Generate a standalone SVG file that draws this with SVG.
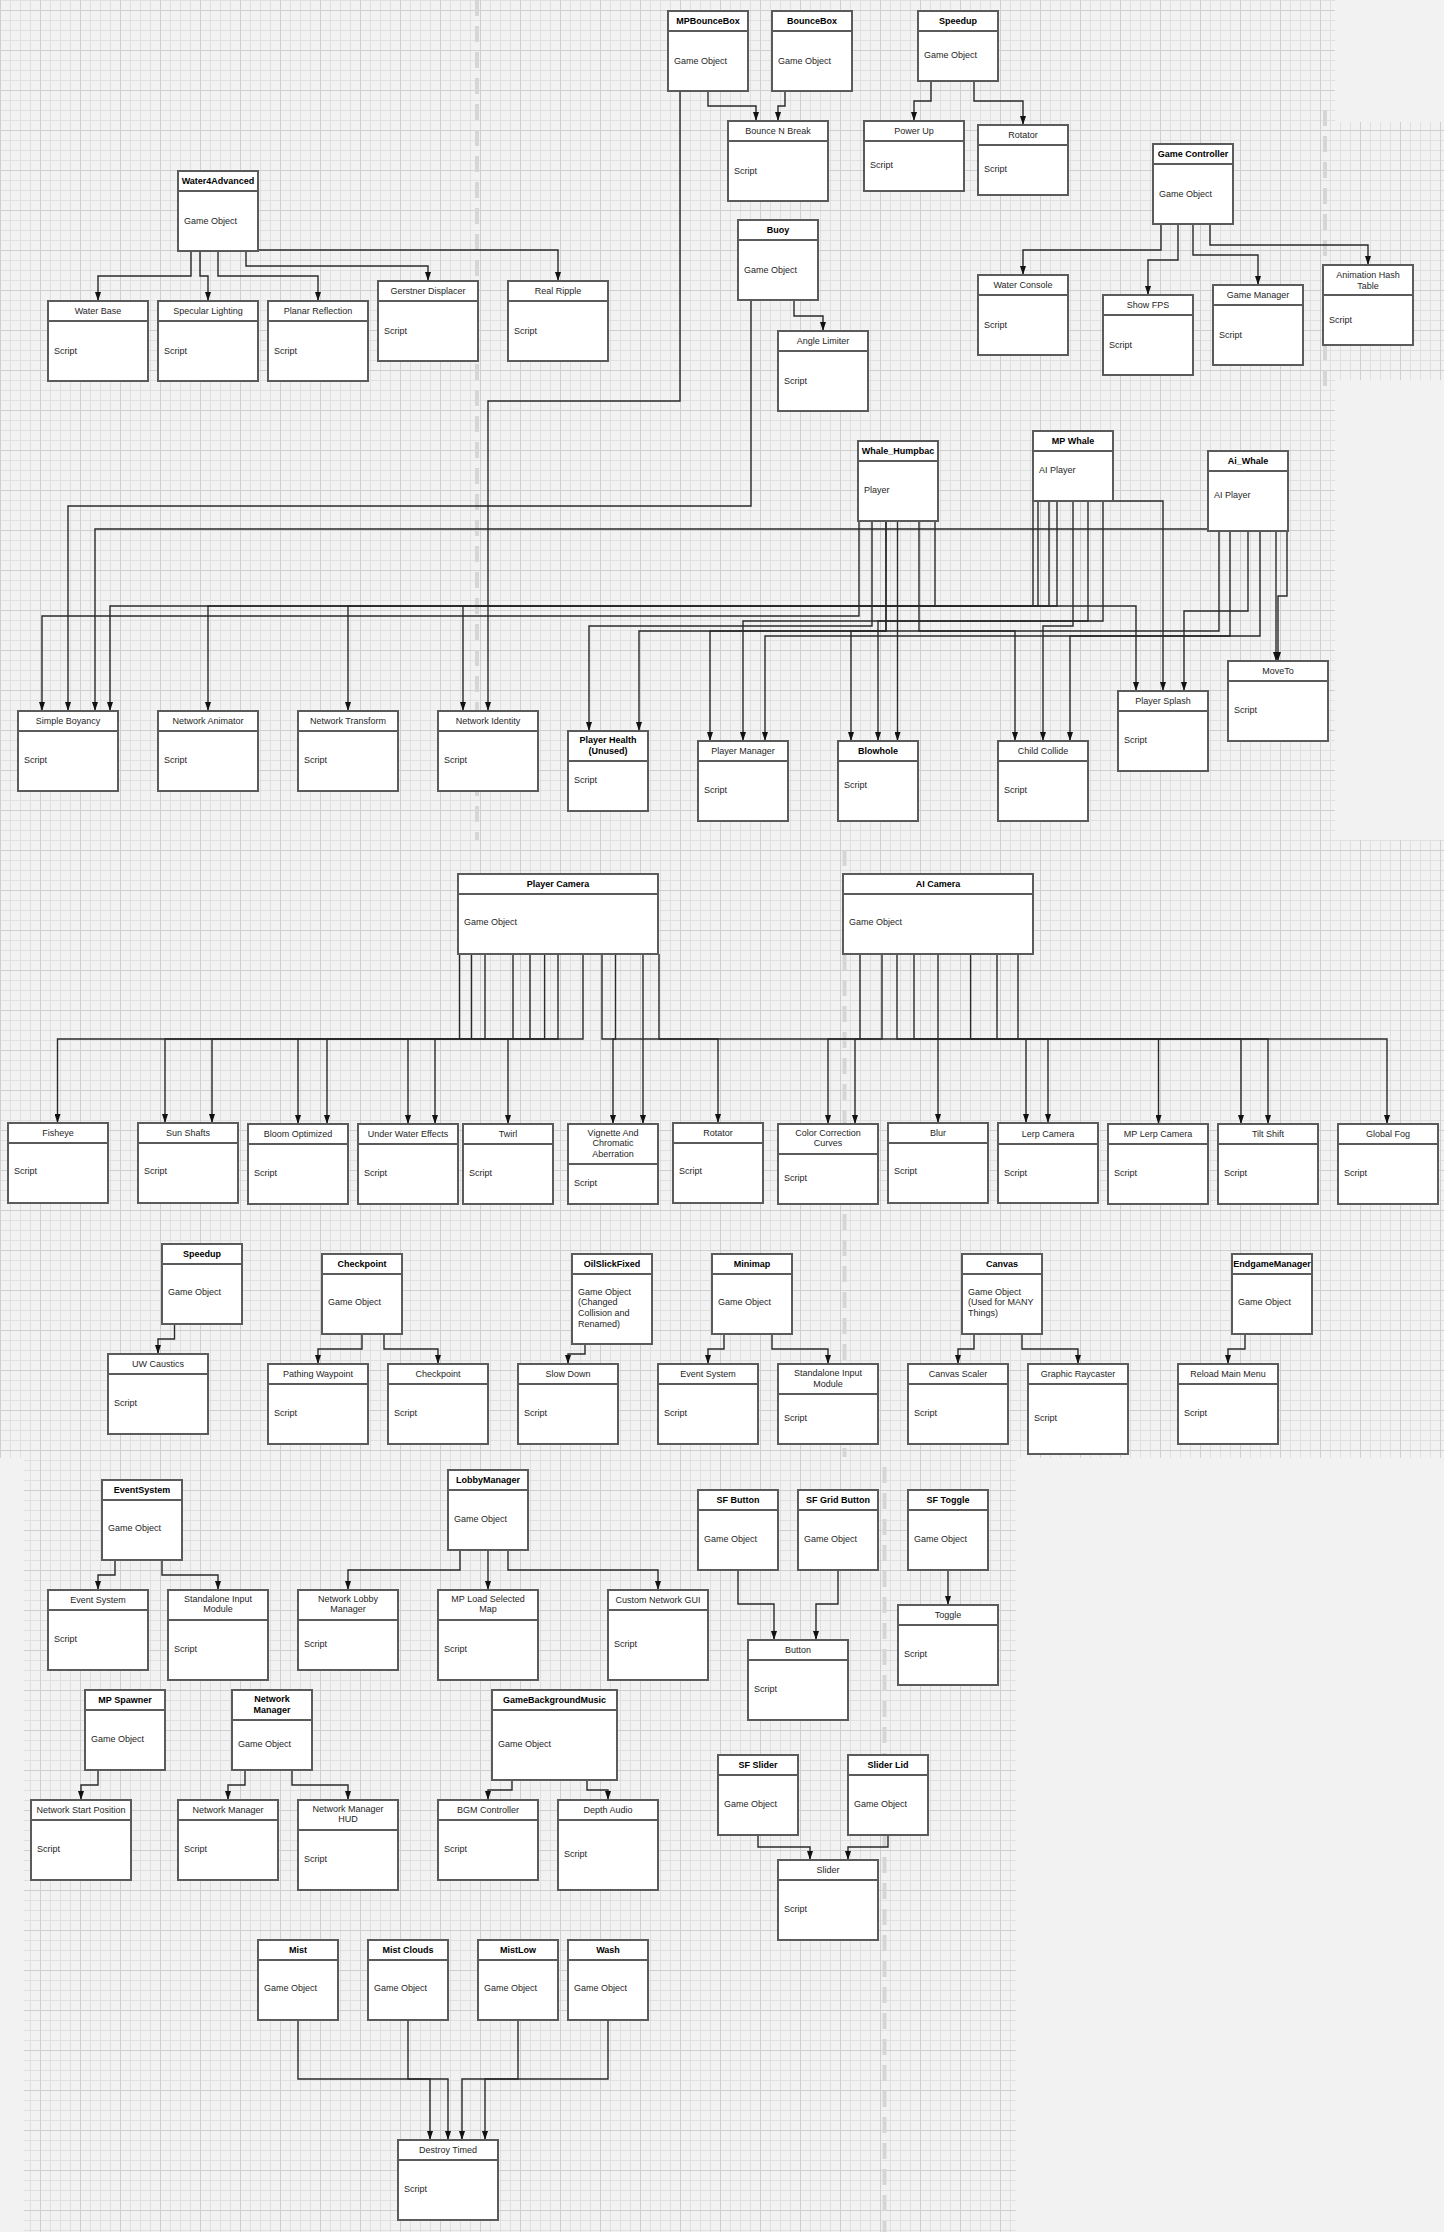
<svg xmlns="http://www.w3.org/2000/svg" width="1444" height="2232" viewBox="0 0 1444 2232">
<defs>
<pattern id="grid" width="40" height="40" patternUnits="userSpaceOnUse" x="0" y="10">
<rect width="40" height="40" fill="#f2f2f2"/>
<path d="M10.5 0V40M20.5 0V40M30.5 0V40M0 10.5H40M0 20.5H40M0 30.5H40" stroke="#e0e0e0" stroke-width="1"/>
<path d="M0.5 0V40M0 0.5H40" stroke="#cfcfcf" stroke-width="1"/>
</pattern>
<marker id="ah" viewBox="0 0 9 6" refX="9" refY="3" markerWidth="9" markerHeight="6" markerUnits="userSpaceOnUse" orient="auto">
<path d="M0,0 L9,3 L0,6 z" fill="#111"/>
</marker>
</defs>
<style>
.n rect{fill:#fff;stroke:#5b5b5b;stroke-width:2}
.n line{stroke:#5b5b5b;stroke-width:2}
.n text{font-family:"Liberation Sans",Arial,sans-serif;font-size:9px;fill:#262626}
.n text.h{text-anchor:middle}
.n text.hb{text-anchor:middle;font-weight:bold;fill:#000}
.c polyline{fill:none;stroke:#2a2a2a;stroke-width:1.4;marker-end:url(#ah)}
.d{stroke:#d6d6d6;stroke-width:4;stroke-dasharray:16 10;fill:none}
</style>

<g id="background">
<rect x="0" y="0" width="1444" height="2232" fill="#f2f2f2"/>
<rect x="0" y="0" width="1335" height="840" fill="url(#grid)"/>
<rect x="1335" y="122" width="109" height="258" fill="url(#grid)"/>
<rect x="0" y="840" width="1444" height="618" fill="url(#grid)"/>
<rect x="24" y="1458" width="992" height="774" fill="url(#grid)"/>
<line class="d" x1="477" y1="0" x2="477" y2="840"/>
<line class="d" x1="1325" y1="110" x2="1325" y2="392"/>
<line class="d" x1="844.5" y1="850" x2="844.5" y2="1457"/>
<line class="d" x1="884.5" y1="1467" x2="884.5" y2="2232"/>
</g>

<g id="connectors" class="c">
<polyline points="708,91 708,106 756,106 756,121"/>
<polyline points="785,91 785,106 778,106 778,121"/>
<polyline points="931,81 931,101 914,101 914,121"/>
<polyline points="974,81 974,101 1023,101 1023,125"/>
<polyline points="1161,224 1161,250 1023,250 1023,275"/>
<polyline points="1178,224 1178,260 1148,260 1148,295"/>
<polyline points="1193,224 1193,255 1258,255 1258,285"/>
<polyline points="1210,224 1210,245 1368,245 1368,265"/>
<polyline points="191,251 191,276 98,276 98,301"/>
<polyline points="200,251 200,276 208,276 208,301"/>
<polyline points="218,251 218,276 318,276 318,301"/>
<polyline points="246,251 246,266 428,266 428,281"/>
<polyline points="258,250 558,250 558,281"/>
<polyline points="794,301 794,316 823,316 823,331"/>
<polyline points="680,91 680,401 488,401 488,711"/>
<polyline points="751,301 751,506 68,506 68,711"/>

<polyline points="859,521 859,616 42,616 42,711"/>
<polyline points="872,521 872,626 589,626 589,731"/>
<polyline points="886,521 886,631 639,631 639,731"/>
<polyline points="886,521 886,631 710,631 710,741"/>
<polyline points="897.5,521 897.5,741"/>
<polyline points="919,521 919,631 1015,631 1015,741"/>
<polyline points="935,521 935,606 1136,606 1136,691"/>
<polyline points="1033,501 1033,606 110,606 110,711"/>
<polyline points="1038,501 1038,606 208,606 208,711"/>
<polyline points="1049,501 1049,606 348,606 348,711"/>
<polyline points="1057,501 1057,606 463,606 463,711"/>
<polyline points="1073,501 1073,626 1043,626 1043,741"/>
<polyline points="1088,501 1088,621 878,621 878,741"/>
<polyline points="1103,501 1103,621 743,621 743,741"/>
<polyline points="1113,501 1163,501 1163,691"/>
<polyline points="1208,529 95,529 95,711"/>
<polyline points="1219,531 1219,631 851,631 851,741"/>
<polyline points="1230,531 1230,636 1070,636 1070,741"/>
<polyline points="1248,531 1248,611 1184,611 1184,691"/>
<polyline points="1260,531 1260,636 765,636 765,741"/>
<polyline points="1276,531 1276,661"/>
<polyline points="1287,531 1287,596 1278,596 1278,661"/>

<polyline points="459.5,954 459.5,1039 57.5,1039 57.5,1123"/>
<polyline points="471.5,954 471.5,1039 165,1039 165,1123"/>
<polyline points="485,954 485,1039 212,1039 212,1123"/>
<polyline points="513,954 513,1039 298,1039 298,1124"/>
<polyline points="530,954 530,1039 327,1039 327,1124"/>
<polyline points="544.6,954 544.6,1039 408,1039 408,1124"/>
<polyline points="558,954 558,1039 435,1039 435,1124"/>
<polyline points="583,954 583,1039 508,1039 508,1124"/>
<polyline points="602,954 602,1039 718,1039 718,1123"/>
<polyline points="615.5,954 615.5,1039 613,1039 613,1124"/>
<polyline points="643,954 643,1124"/>
<polyline points="659,954 659,1039 1387,1039 1387,1124"/>
<polyline points="860,954 860,1039 828,1039 828,1124"/>
<polyline points="882,954 882,1039 855,1039 855,1124"/>
<polyline points="897,954 897,1039 1158.5,1039 1158.5,1124"/>
<polyline points="914,954 914,1039 1241,1039 1241,1124"/>
<polyline points="938,954 938,1123"/>
<polyline points="970.6,954 970.6,1039 1268,1039 1268,1124"/>
<polyline points="997,954 997,1039 1026,1039 1026,1123"/>
<polyline points="1018,954 1018,1039 1048,1039 1048,1123"/>

<polyline points="174.5,1324 174.5,1339 158,1339 158,1354"/>
<polyline points="362,1334 362,1349 318,1349 318,1364"/>
<polyline points="384,1334 384,1349 438,1349 438,1364"/>
<polyline points="585,1344 585,1354 568,1354 568,1364"/>
<polyline points="724,1334 724,1349 708,1349 708,1364"/>
<polyline points="772,1334 772,1349 828,1349 828,1364"/>
<polyline points="974,1334 974,1349 958,1349 958,1364"/>
<polyline points="1022,1334 1022,1349 1078,1349 1078,1364"/>
<polyline points="1245,1334 1245,1349 1228,1349 1228,1364"/>

<polyline points="115,1560 115,1575 98,1575 98,1590"/>
<polyline points="162,1560 162,1575 218,1575 218,1590"/>
<polyline points="460,1550 460,1570 348,1570 348,1590"/>
<polyline points="488,1550 488,1590"/>
<polyline points="508,1550 508,1570 658,1570 658,1590"/>
<polyline points="738,1570 738,1604 774,1604 774,1640"/>
<polyline points="838,1570 838,1604 816,1604 816,1640"/>
<polyline points="948,1570 948,1605"/>
<polyline points="98,1770 98,1785 81,1785 81,1800"/>
<polyline points="245,1770 245,1785 228,1785 228,1800"/>
<polyline points="292,1770 292,1785 348,1785 348,1800"/>
<polyline points="512,1780 512,1790 488,1790 488,1800"/>
<polyline points="587,1780 587,1790 608,1790 608,1800"/>
<polyline points="758,1835 758,1847 810,1847 810,1860"/>
<polyline points="888,1835 888,1847 848,1847 848,1860"/>
<polyline points="298,2020 298,2079 430,2079 430,2140"/>
<polyline points="408,2020 408,2079 448,2079 448,2140"/>
<polyline points="518,2020 518,2079 462,2079 462,2140"/>
<polyline points="608,2020 608,2079 485,2079 485,2140"/>
</g>

<g id="n-mpbouncebox" class="n"><rect x="668" y="11" width="80" height="80"/><line x1="668" y1="31" x2="748" y2="31"/><text class="hb" x="708" y="24.2">MPBounceBox</text><text x="674" y="64.2">Game Object</text></g>
<g id="n-bouncebox" class="n"><rect x="772" y="11" width="80" height="80"/><line x1="772" y1="31" x2="852" y2="31"/><text class="hb" x="812" y="24.2">BounceBox</text><text x="778" y="64.2">Game Object</text></g>
<g id="n-speedup1" class="n"><rect x="918" y="11" width="80" height="70"/><line x1="918" y1="31" x2="998" y2="31"/><text class="hb" x="958" y="24.2">Speedup</text><text x="924" y="57.5">Game Object</text></g>
<g id="n-bouncenbreak" class="n"><rect x="728" y="121" width="100" height="80"/><line x1="728" y1="141" x2="828" y2="141"/><text class="h" x="778" y="134.2">Bounce N Break</text><text x="734" y="174.2">Script</text></g>
<g id="n-powerup" class="n"><rect x="864" y="121" width="100" height="70"/><line x1="864" y1="141" x2="964" y2="141"/><text class="h" x="914" y="134.2">Power Up</text><text x="870" y="167.5">Script</text></g>
<g id="n-rotator1" class="n"><rect x="978" y="125" width="90" height="70"/><line x1="978" y1="145" x2="1068" y2="145"/><text class="h" x="1023" y="138.2">Rotator</text><text x="984" y="171.5">Script</text></g>
<g id="n-gamecontroller" class="n"><rect x="1153" y="144" width="80" height="80"/><line x1="1153" y1="164" x2="1233" y2="164"/><text class="hb" x="1193" y="157.2">Game Controller</text><text x="1159" y="197.2">Game Object</text></g>
<g id="n-water4advanced" class="n"><rect x="178" y="171" width="80" height="80"/><line x1="178" y1="191" x2="258" y2="191"/><text class="hb" x="218" y="184.2">Water4Advanced</text><text x="184" y="224.2">Game Object</text></g>
<g id="n-buoy" class="n"><rect x="738" y="220" width="80" height="80"/><line x1="738" y1="240" x2="818" y2="240"/><text class="hb" x="778" y="233.2">Buoy</text><text x="744" y="273.2">Game Object</text></g>
<g id="n-waterconsole" class="n"><rect x="978" y="275" width="90" height="80"/><line x1="978" y1="295" x2="1068" y2="295"/><text class="h" x="1023" y="288.2">Water Console</text><text x="984" y="328.2">Script</text></g>
<g id="n-showfps" class="n"><rect x="1103" y="295" width="90" height="80"/><line x1="1103" y1="315" x2="1193" y2="315"/><text class="h" x="1148" y="308.2">Show FPS</text><text x="1109" y="348.2">Script</text></g>
<g id="n-gamemanager" class="n"><rect x="1213" y="285" width="90" height="80"/><line x1="1213" y1="305" x2="1303" y2="305"/><text class="h" x="1258" y="298.2">Game Manager</text><text x="1219" y="338.2">Script</text></g>
<g id="n-animhash" class="n"><rect x="1323" y="265" width="90" height="80"/><line x1="1323" y1="295" x2="1413" y2="295"/><text class="h" x="1368" y="277.7">Animation Hash</text><text class="h" x="1368" y="288.7">Table</text><text x="1329" y="323.2">Script</text></g>
<g id="n-waterbase" class="n"><rect x="48" y="301" width="100" height="80"/><line x1="48" y1="321" x2="148" y2="321"/><text class="h" x="98" y="314.2">Water Base</text><text x="54" y="354.2">Script</text></g>
<g id="n-specular" class="n"><rect x="158" y="301" width="100" height="80"/><line x1="158" y1="321" x2="258" y2="321"/><text class="h" x="208" y="314.2">Specular Lighting</text><text x="164" y="354.2">Script</text></g>
<g id="n-planar" class="n"><rect x="268" y="301" width="100" height="80"/><line x1="268" y1="321" x2="368" y2="321"/><text class="h" x="318" y="314.2">Planar Reflection</text><text x="274" y="354.2">Script</text></g>
<g id="n-gerstner" class="n"><rect x="378" y="281" width="100" height="80"/><line x1="378" y1="301" x2="478" y2="301"/><text class="h" x="428" y="294.2">Gerstner Displacer</text><text x="384" y="334.2">Script</text></g>
<g id="n-realripple" class="n"><rect x="508" y="281" width="100" height="80"/><line x1="508" y1="301" x2="608" y2="301"/><text class="h" x="558" y="294.2">Real Ripple</text><text x="514" y="334.2">Script</text></g>
<g id="n-anglelimiter" class="n"><rect x="778" y="331" width="90" height="80"/><line x1="778" y1="351" x2="868" y2="351"/><text class="h" x="823" y="344.2">Angle Limiter</text><text x="784" y="384.2">Script</text></g>

<g id="n-whalehumpbac" class="n"><rect x="858" y="441" width="80" height="80"/><line x1="858" y1="461" x2="938" y2="461"/><text class="hb" x="898" y="454.2">Whale_Humpbac</text><text x="864" y="492.5">Player</text></g>
<g id="n-mpwhale" class="n"><rect x="1033" y="431" width="80" height="70"/><line x1="1033" y1="451" x2="1113" y2="451"/><text class="hb" x="1073" y="444.2">MP Whale</text><text x="1039" y="472.5">AI Player</text></g>
<g id="n-aiwhale" class="n"><rect x="1208" y="451" width="80" height="80"/><line x1="1208" y1="471" x2="1288" y2="471"/><text class="hb" x="1248" y="464.2">Ai_Whale</text><text x="1214" y="497.5">AI Player</text></g>
<g id="n-moveto" class="n"><rect x="1228" y="661" width="100" height="80"/><line x1="1228" y1="681" x2="1328" y2="681"/><text class="h" x="1278" y="674.2">MoveTo</text><text x="1234" y="712.5">Script</text></g>
<g id="n-playersplash" class="n"><rect x="1118" y="691" width="90" height="80"/><line x1="1118" y1="711" x2="1208" y2="711"/><text class="h" x="1163" y="704.2">Player Splash</text><text x="1124" y="742.5">Script</text></g>
<g id="n-simpleboyancy" class="n"><rect x="18" y="711" width="100" height="80"/><line x1="18" y1="731" x2="118" y2="731"/><text class="h" x="68" y="724.2">Simple Boyancy</text><text x="24" y="762.5">Script</text></g>
<g id="n-netanimator" class="n"><rect x="158" y="711" width="100" height="80"/><line x1="158" y1="731" x2="258" y2="731"/><text class="h" x="208" y="724.2">Network Animator</text><text x="164" y="762.5">Script</text></g>
<g id="n-nettransform" class="n"><rect x="298" y="711" width="100" height="80"/><line x1="298" y1="731" x2="398" y2="731"/><text class="h" x="348" y="724.2">Network Transform</text><text x="304" y="762.5">Script</text></g>
<g id="n-netidentity" class="n"><rect x="438" y="711" width="100" height="80"/><line x1="438" y1="731" x2="538" y2="731"/><text class="h" x="488" y="724.2">Network Identity</text><text x="444" y="762.5">Script</text></g>
<g id="n-playerhealth" class="n"><rect x="568" y="731" width="80" height="80"/><line x1="568" y1="761" x2="648" y2="761"/><text class="hb" x="608" y="742.7">Player Health</text><text class="hb" x="608" y="753.7">(Unused)</text><text x="574" y="782.5">Script</text></g>
<g id="n-playermanager" class="n"><rect x="698" y="741" width="90" height="80"/><line x1="698" y1="761" x2="788" y2="761"/><text class="h" x="743" y="754.2">Player Manager</text><text x="704" y="792.5">Script</text></g>
<g id="n-blowhole" class="n"><rect x="838" y="741" width="80" height="80"/><line x1="838" y1="761" x2="918" y2="761"/><text class="hb" x="878" y="754.2">Blowhole</text><text x="844" y="787.5">Script</text></g>
<g id="n-childcollide" class="n"><rect x="998" y="741" width="90" height="80"/><line x1="998" y1="761" x2="1088" y2="761"/><text class="h" x="1043" y="754.2">Child Collide</text><text x="1004" y="792.5">Script</text></g>

<g id="n-playercamera" class="n"><rect x="458" y="874" width="200" height="80"/><line x1="458" y1="894" x2="658" y2="894"/><text class="hb" x="558" y="887.2">Player Camera</text><text x="464" y="925.2">Game Object</text></g>
<g id="n-aicamera" class="n"><rect x="843" y="874" width="190" height="80"/><line x1="843" y1="894" x2="1033" y2="894"/><text class="hb" x="938" y="887.2">AI Camera</text><text x="849" y="925.2">Game Object</text></g>
<g id="n-fisheye" class="n"><rect x="8" y="1123" width="100" height="80"/><line x1="8" y1="1143" x2="108" y2="1143"/><text class="h" x="58" y="1136.2">Fisheye</text><text x="14" y="1174.2">Script</text></g>
<g id="n-sunshafts" class="n"><rect x="138" y="1123" width="100" height="80"/><line x1="138" y1="1143" x2="238" y2="1143"/><text class="h" x="188" y="1136.2">Sun Shafts</text><text x="144" y="1174.2">Script</text></g>
<g id="n-bloom" class="n"><rect x="248" y="1124" width="100" height="80"/><line x1="248" y1="1144" x2="348" y2="1144"/><text class="h" x="298" y="1137.2">Bloom Optimized</text><text x="254" y="1175.5">Script</text></g>
<g id="n-underwater" class="n"><rect x="358" y="1124" width="100" height="80"/><line x1="358" y1="1144" x2="458" y2="1144"/><text class="h" x="408" y="1137.2">Under Water Effects</text><text x="364" y="1175.5">Script</text></g>
<g id="n-twirl" class="n"><rect x="463" y="1124" width="90" height="80"/><line x1="463" y1="1144" x2="553" y2="1144"/><text class="h" x="508" y="1137.2">Twirl</text><text x="469" y="1175.5">Script</text></g>
<g id="n-vignette" class="n"><rect x="568" y="1124" width="90" height="80"/><line x1="568" y1="1164" x2="658" y2="1164"/><text class="h" x="613" y="1135.5">Vignette And</text><text class="h" x="613" y="1146.3">Chromatic</text><text class="h" x="613" y="1157.1">Aberration</text><text x="574" y="1186.2">Script</text></g>
<g id="n-rotator2" class="n"><rect x="673" y="1123" width="90" height="80"/><line x1="673" y1="1143" x2="763" y2="1143"/><text class="h" x="718" y="1136.2">Rotator</text><text x="679" y="1174.2">Script</text></g>
<g id="n-colorcorrection" class="n"><rect x="778" y="1124" width="100" height="80"/><line x1="778" y1="1154" x2="878" y2="1154"/><text class="h" x="828" y="1135.5">Color Correction</text><text class="h" x="828" y="1146.3">Curves</text><text x="784" y="1180.5">Script</text></g>
<g id="n-blur" class="n"><rect x="888" y="1123" width="100" height="80"/><line x1="888" y1="1143" x2="988" y2="1143"/><text class="h" x="938" y="1135.5">Blur</text><text x="894" y="1174.2">Script</text></g>
<g id="n-lerpcamera" class="n"><rect x="998" y="1123" width="100" height="80"/><line x1="998" y1="1144" x2="1098" y2="1144"/><text class="h" x="1048" y="1136.8">Lerp Camera</text><text x="1004" y="1175.5">Script</text></g>
<g id="n-mplerpcamera" class="n"><rect x="1108" y="1124" width="100" height="80"/><line x1="1108" y1="1144" x2="1208" y2="1144"/><text class="h" x="1158" y="1137.2">MP Lerp Camera</text><text x="1114" y="1175.5">Script</text></g>
<g id="n-tiltshift" class="n"><rect x="1218" y="1124" width="100" height="80"/><line x1="1218" y1="1144" x2="1318" y2="1144"/><text class="h" x="1268" y="1137.2">Tilt Shift</text><text x="1224" y="1175.5">Script</text></g>
<g id="n-globalfog" class="n"><rect x="1338" y="1124" width="100" height="80"/><line x1="1338" y1="1144" x2="1438" y2="1144"/><text class="h" x="1388" y="1137.2">Global Fog</text><text x="1344" y="1175.5">Script</text></g>

<g id="n-speedup2" class="n"><rect x="162" y="1244" width="80" height="80"/><line x1="162" y1="1264" x2="242" y2="1264"/><text class="hb" x="202" y="1257.2">Speedup</text><text x="168" y="1295.2">Game Object</text></g>
<g id="n-uwcaustics" class="n"><rect x="108" y="1354" width="100" height="80"/><line x1="108" y1="1374" x2="208" y2="1374"/><text class="h" x="158" y="1367.2">UW Caustics</text><text x="114" y="1405.9">Script</text></g>
<g id="n-checkpointgo" class="n"><rect x="322" y="1254" width="80" height="80"/><line x1="322" y1="1274" x2="402" y2="1274"/><text class="hb" x="362" y="1267.2">Checkpoint</text><text x="328" y="1305.2">Game Object</text></g>
<g id="n-pathingwaypoint" class="n"><rect x="268" y="1364" width="100" height="80"/><line x1="268" y1="1384" x2="368" y2="1384"/><text class="h" x="318" y="1377.2">Pathing Waypoint</text><text x="274" y="1415.5">Script</text></g>
<g id="n-checkpointscript" class="n"><rect x="388" y="1364" width="100" height="80"/><line x1="388" y1="1384" x2="488" y2="1384"/><text class="h" x="438" y="1377.2">Checkpoint</text><text x="394" y="1415.5">Script</text></g>
<g id="n-oilslick" class="n"><rect x="572" y="1254" width="80" height="90"/><line x1="572" y1="1274" x2="652" y2="1274"/><text class="hb" x="612" y="1267.2">OilSlickFixed</text><text x="578" y="1294.5">Game Object</text><text x="578" y="1305.3">(Changed</text><text x="578" y="1316.1">Collision and</text><text x="578" y="1326.9">Renamed)</text></g>
<g id="n-slowdown" class="n"><rect x="518" y="1364" width="100" height="80"/><line x1="518" y1="1384" x2="618" y2="1384"/><text class="h" x="568" y="1377.2">Slow Down</text><text x="524" y="1415.5">Script</text></g>
<g id="n-minimap" class="n"><rect x="712" y="1254" width="80" height="80"/><line x1="712" y1="1274" x2="792" y2="1274"/><text class="hb" x="752" y="1267.2">Minimap</text><text x="718" y="1305.2">Game Object</text></g>
<g id="n-eventsystem1" class="n"><rect x="658" y="1364" width="100" height="80"/><line x1="658" y1="1384" x2="758" y2="1384"/><text class="h" x="708" y="1377.2">Event System</text><text x="664" y="1415.5">Script</text></g>
<g id="n-sim1" class="n"><rect x="778" y="1364" width="100" height="80"/><line x1="778" y1="1394" x2="878" y2="1394"/><text class="h" x="828" y="1375.5">Standalone Input</text><text class="h" x="828" y="1386.5">Module</text><text x="784" y="1420.5">Script</text></g>
<g id="n-canvas" class="n"><rect x="962" y="1254" width="80" height="80"/><line x1="962" y1="1274" x2="1042" y2="1274"/><text class="hb" x="1002" y="1267.2">Canvas</text><text x="968" y="1294.5">Game Object</text><text x="968" y="1305.3">(Used for MANY</text><text x="968" y="1316.1">Things)</text></g>
<g id="n-canvasscaler" class="n"><rect x="908" y="1364" width="100" height="80"/><line x1="908" y1="1384" x2="1008" y2="1384"/><text class="h" x="958" y="1377.2">Canvas Scaler</text><text x="914" y="1415.5">Script</text></g>
<g id="n-graphicraycaster" class="n"><rect x="1028" y="1364" width="100" height="90"/><line x1="1028" y1="1384" x2="1128" y2="1384"/><text class="h" x="1078" y="1377.2">Graphic Raycaster</text><text x="1034" y="1420.5">Script</text></g>
<g id="n-endgamemanager" class="n"><rect x="1232" y="1254" width="80" height="80"/><line x1="1232" y1="1274" x2="1312" y2="1274"/><text class="hb" x="1272" y="1267.2">EndgameManager</text><text x="1238" y="1305.2">Game Object</text></g>
<g id="n-reloadmainmenu" class="n"><rect x="1178" y="1364" width="100" height="80"/><line x1="1178" y1="1384" x2="1278" y2="1384"/><text class="h" x="1228" y="1377.2">Reload Main Menu</text><text x="1184" y="1415.5">Script</text></g>

<g id="n-eventsystemgo" class="n"><rect x="102" y="1480" width="80" height="80"/><line x1="102" y1="1500" x2="182" y2="1500"/><text class="hb" x="142" y="1493.2">EventSystem</text><text x="108" y="1531.2">Game Object</text></g>
<g id="n-eventsystem2" class="n"><rect x="48" y="1590" width="100" height="80"/><line x1="48" y1="1610" x2="148" y2="1610"/><text class="h" x="98" y="1603.2">Event System</text><text x="54" y="1641.5">Script</text></g>
<g id="n-sim2" class="n"><rect x="168" y="1590" width="100" height="90"/><line x1="168" y1="1620" x2="268" y2="1620"/><text class="h" x="218" y="1601.5">Standalone Input</text><text class="h" x="218" y="1612.3">Module</text><text x="174" y="1651.5">Script</text></g>
<g id="n-lobbymanager" class="n"><rect x="448" y="1470" width="80" height="80"/><line x1="448" y1="1490" x2="528" y2="1490"/><text class="hb" x="488" y="1483.2">LobbyManager</text><text x="454" y="1521.5">Game Object</text></g>
<g id="n-netlobbymanager" class="n"><rect x="298" y="1590" width="100" height="80"/><line x1="298" y1="1620" x2="398" y2="1620"/><text class="h" x="348" y="1601.5">Network Lobby</text><text class="h" x="348" y="1612.3">Manager</text><text x="304" y="1646.5">Script</text></g>
<g id="n-mploadmap" class="n"><rect x="438" y="1590" width="100" height="90"/><line x1="438" y1="1620" x2="538" y2="1620"/><text class="h" x="488" y="1601.5">MP Load Selected</text><text class="h" x="488" y="1612.3">Map</text><text x="444" y="1651.5">Script</text></g>
<g id="n-customnetgui" class="n"><rect x="608" y="1590" width="100" height="90"/><line x1="608" y1="1610" x2="708" y2="1610"/><text class="h" x="658" y="1603.2">Custom Network GUI</text><text x="614" y="1646.5">Script</text></g>
<g id="n-sfbutton" class="n"><rect x="698" y="1490" width="80" height="80"/><line x1="698" y1="1510" x2="778" y2="1510"/><text class="hb" x="738" y="1503.2">SF Button</text><text x="704" y="1541.5">Game Object</text></g>
<g id="n-sfgridbutton" class="n"><rect x="798" y="1490" width="80" height="80"/><line x1="798" y1="1510" x2="878" y2="1510"/><text class="hb" x="838" y="1503.2">SF Grid Button</text><text x="804" y="1541.5">Game Object</text></g>
<g id="n-sftoggle" class="n"><rect x="908" y="1490" width="80" height="80"/><line x1="908" y1="1510" x2="988" y2="1510"/><text class="hb" x="948" y="1503.2">SF Toggle</text><text x="914" y="1541.5">Game Object</text></g>
<g id="n-toggle" class="n"><rect x="898" y="1605" width="100" height="80"/><line x1="898" y1="1625" x2="998" y2="1625"/><text class="h" x="948" y="1618.2">Toggle</text><text x="904" y="1656.5">Script</text></g>
<g id="n-button" class="n"><rect x="748" y="1640" width="100" height="80"/><line x1="748" y1="1660" x2="848" y2="1660"/><text class="h" x="798" y="1653.2">Button</text><text x="754" y="1691.5">Script</text></g>
<g id="n-mpspawner" class="n"><rect x="85" y="1690" width="80" height="80"/><line x1="85" y1="1710" x2="165" y2="1710"/><text class="hb" x="125" y="1703.2">MP Spawner</text><text x="91" y="1741.5">Game Object</text></g>
<g id="n-netstartpos" class="n"><rect x="31" y="1800" width="100" height="80"/><line x1="31" y1="1820" x2="131" y2="1820"/><text class="h" x="81" y="1813.2">Network Start Position</text><text x="37" y="1851.5">Script</text></g>
<g id="n-netmanagergo" class="n"><rect x="232" y="1690" width="80" height="80"/><line x1="232" y1="1720" x2="312" y2="1720"/><text class="hb" x="272" y="1701.5">Network</text><text class="hb" x="272" y="1712.5">Manager</text><text x="238" y="1746.5">Game Object</text></g>
<g id="n-netmanager" class="n"><rect x="178" y="1800" width="100" height="80"/><line x1="178" y1="1820" x2="278" y2="1820"/><text class="h" x="228" y="1813.2">Network Manager</text><text x="184" y="1851.5">Script</text></g>
<g id="n-netmanagerhud" class="n"><rect x="298" y="1800" width="100" height="90"/><line x1="298" y1="1830" x2="398" y2="1830"/><text class="h" x="348" y="1811.5">Network Manager</text><text class="h" x="348" y="1822.3">HUD</text><text x="304" y="1861.5">Script</text></g>
<g id="n-gamebgmusic" class="n"><rect x="492" y="1690" width="125" height="90"/><line x1="492" y1="1710" x2="617" y2="1710"/><text class="hb" x="554.5" y="1703.2">GameBackgroundMusic</text><text x="498" y="1746.5">Game Object</text></g>
<g id="n-bgmcontroller" class="n"><rect x="438" y="1800" width="100" height="80"/><line x1="438" y1="1820" x2="538" y2="1820"/><text class="h" x="488" y="1813.2">BGM Controller</text><text x="444" y="1851.5">Script</text></g>
<g id="n-depthaudio" class="n"><rect x="558" y="1800" width="100" height="90"/><line x1="558" y1="1820" x2="658" y2="1820"/><text class="h" x="608" y="1813.2">Depth Audio</text><text x="564" y="1856.5">Script</text></g>
<g id="n-sfslider" class="n"><rect x="718" y="1755" width="80" height="80"/><line x1="718" y1="1775" x2="798" y2="1775"/><text class="hb" x="758" y="1768.2">SF Slider</text><text x="724" y="1806.5">Game Object</text></g>
<g id="n-sliderlid" class="n"><rect x="848" y="1755" width="80" height="80"/><line x1="848" y1="1775" x2="928" y2="1775"/><text class="hb" x="888" y="1768.2">Slider Lid</text><text x="854" y="1806.5">Game Object</text></g>
<g id="n-slider" class="n"><rect x="778" y="1860" width="100" height="80"/><line x1="778" y1="1880" x2="878" y2="1880"/><text class="h" x="828" y="1873.2">Slider</text><text x="784" y="1911.5">Script</text></g>
<g id="n-mist" class="n"><rect x="258" y="1940" width="80" height="80"/><line x1="258" y1="1960" x2="338" y2="1960"/><text class="hb" x="298" y="1953.2">Mist</text><text x="264" y="1991.2">Game Object</text></g>
<g id="n-mistclouds" class="n"><rect x="368" y="1940" width="80" height="80"/><line x1="368" y1="1960" x2="448" y2="1960"/><text class="hb" x="408" y="1953.2">Mist Clouds</text><text x="374" y="1991.2">Game Object</text></g>
<g id="n-mistlow" class="n"><rect x="478" y="1940" width="80" height="80"/><line x1="478" y1="1960" x2="558" y2="1960"/><text class="hb" x="518" y="1953.2">MistLow</text><text x="484" y="1991.2">Game Object</text></g>
<g id="n-wash" class="n"><rect x="568" y="1940" width="80" height="80"/><line x1="568" y1="1960" x2="648" y2="1960"/><text class="hb" x="608" y="1953.2">Wash</text><text x="574" y="1991.2">Game Object</text></g>
<g id="n-destroytimed" class="n"><rect x="398" y="2140" width="100" height="80"/><line x1="398" y1="2160" x2="498" y2="2160"/><text class="h" x="448" y="2153.2">Destroy Timed</text><text x="404" y="2191.5">Script</text></g>
</svg>
